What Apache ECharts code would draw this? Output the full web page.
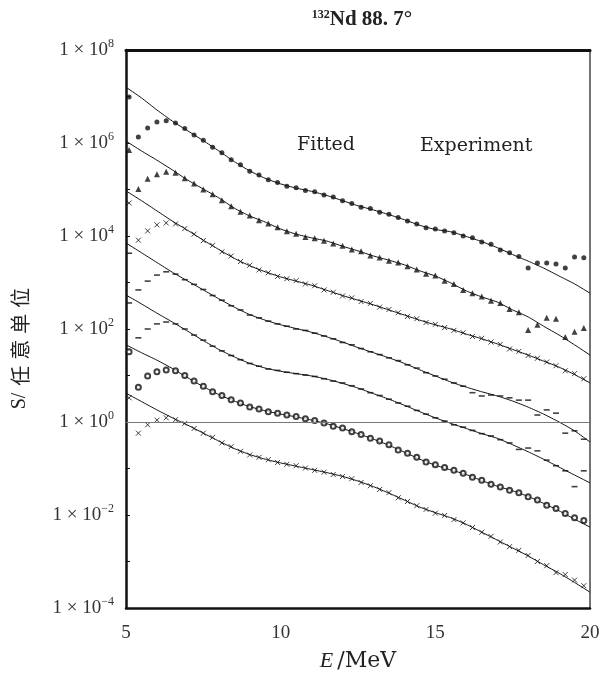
<!DOCTYPE html>
<html>
<head>
<meta charset="utf-8">
<script src="https://cdn.jsdelivr.net/npm/echarts/dist/echarts.min.js"></script>
<style>
  html, body { margin: 0; padding: 0; background: #fff; }
  #main { width: 606px; height: 683px; }
</style>
</head>
<body>
<div id="main"></div>
<script>
// 能量坐标 (MeV)
var fitE = [5, 5.5, 6, 6.5, 7, 7.5, 8, 8.5, 9, 9.5, 10, 10.5, 11, 11.5, 12, 12.5,
  13, 13.5, 14, 14.5, 15, 15.5, 16, 16.5, 17, 17.5, 18, 18.5, 19, 19.5, 20];
var expE = [5.1, 5.4, 5.7, 6.0, 6.3, 6.6, 6.9, 7.2, 7.5, 7.8, 8.1, 8.4, 8.7, 9.0, 9.3,
  9.6, 9.9, 10.2, 10.5, 10.8, 11.1, 11.4, 11.7, 12.0, 12.3, 12.6, 12.9, 13.2, 13.5,
  13.8, 14.1, 14.4, 14.7, 15.0, 15.3, 15.6, 15.9, 16.2, 16.5, 16.8, 17.1, 17.4, 17.7,
  18.0, 18.3, 18.6, 18.9, 19.2, 19.5, 19.8];

// 拟合曲线, lg(S)
var fit1 = [7.20, 6.97, 6.71, 6.47, 6.26, 6.05, 5.83, 5.60, 5.40, 5.24, 5.12, 5.03, 4.96, 4.87, 4.76, 4.65, 4.56, 4.46, 4.35, 4.23, 4.14, 4.09, 3.99, 3.88, 3.75, 3.60, 3.46, 3.31, 3.14, 2.97, 2.77];
var fit2 = [6.04, 5.83, 5.63, 5.42, 5.20, 5.01, 4.82, 4.60, 4.43, 4.30, 4.15, 4.04, 3.96, 3.89, 3.78, 3.68, 3.57, 3.48, 3.38, 3.25, 3.14, 2.99, 2.82, 2.69, 2.58, 2.41, 2.26, 2.06, 1.87, 1.66, 1.44];
var fit3 = [4.97, 4.76, 4.54, 4.32, 4.12, 3.91, 3.71, 3.52, 3.36, 3.23, 3.12, 3.03, 2.94, 2.83, 2.72, 2.62, 2.52, 2.41, 2.30, 2.19, 2.09, 2.00, 1.89, 1.79, 1.68, 1.56, 1.44, 1.31, 1.18, 1.02, 0.84];
var fit4 = [3.85, 3.64, 3.43, 3.22, 3.03, 2.84, 2.65, 2.47, 2.31, 2.19, 2.09, 2.01, 1.93, 1.83, 1.72, 1.60, 1.49, 1.38, 1.26, 1.12, 0.99, 0.86, 0.75, 0.65, 0.56, 0.45, 0.32, 0.17, 0.00, -0.19, -0.43];
var fit5 = [2.73, 2.54, 2.34, 2.15, 1.95, 1.75, 1.56, 1.40, 1.26, 1.16, 1.09, 1.04, 0.99, 0.92, 0.83, 0.73, 0.61, 0.49, 0.36, 0.22, 0.09, -0.03, -0.14, -0.25, -0.35, -0.49, -0.64, -0.80, -0.97, -1.14, -1.31];
var fit6 = [1.66, 1.49, 1.33, 1.15, 0.95, 0.76, 0.59, 0.45, 0.33, 0.24, 0.17, 0.11, 0.04, -0.04, -0.14, -0.25, -0.37, -0.50, -0.65, -0.80, -0.93, -1.03, -1.13, -1.26, -1.38, -1.48, -1.60, -1.75, -1.91, -2.09, -2.26];
var fit7 = [0.62, 0.44, 0.26, 0.09, -0.07, -0.24, -0.41, -0.57, -0.70, -0.80, -0.88, -0.95, -1.02, -1.09, -1.17, -1.27, -1.39, -1.53, -1.68, -1.83, -1.95, -2.06, -2.20, -2.37, -2.54, -2.71, -2.88, -3.07, -3.25, -3.45, -3.66];

// 实验点, lg(S)
var exp1 = [6.99, 6.13, 6.32, 6.45, 6.48, 6.43, 6.31, 6.17, 6.06, 5.91, 5.79, 5.64, 5.53, 5.39, 5.31, 5.21, 5.15, 5.07, 5.04, 4.98, 4.95, 4.88, 4.84, 4.76, 4.70, 4.62, 4.59, 4.51, 4.47, 4.40, 4.32, 4.26, 4.18, 4.15, 4.11, 4.07, 4.00, 3.96, 3.87, 3.82, 3.70, 3.64, 3.56, 3.31, 3.42, 3.42, 3.40, 3.31, 3.55, 3.53];
var exp2 = [5.85, 5.01, 5.23, 5.33, 5.38, 5.36, 5.24, 5.13, 5.00, 4.90, 4.77, 4.64, 4.52, 4.44, 4.34, 4.27, 4.19, 4.10, 4.05, 3.98, 3.95, 3.90, 3.84, 3.79, 3.71, 3.67, 3.58, 3.54, 3.47, 3.43, 3.35, 3.28, 3.19, 3.15, 3.04, 2.97, 2.84, 2.77, 2.70, 2.61, 2.56, 2.43, 2.36, 1.98, 2.09, 2.24, 2.22, 1.83, 1.94, 2.02];
var exp3 = [4.71, 3.91, 4.11, 4.24, 4.28, 4.26, 4.16, 4.04, 3.90, 3.80, 3.66, 3.57, 3.45, 3.37, 3.27, 3.21, 3.13, 3.08, 3.04, 2.97, 2.93, 2.84, 2.79, 2.71, 2.67, 2.59, 2.55, 2.47, 2.42, 2.35, 2.27, 2.22, 2.14, 2.10, 2.03, 1.97, 1.92, 1.84, 1.80, 1.72, 1.67, 1.57, 1.52, 1.43, 1.37, 1.29, 1.21, 1.10, 1.04, 0.93];
var exp4 = [3.63, 2.84, 3.03, 3.16, 3.23, 3.18, 3.06, 2.96, 2.85, 2.72, 2.62, 2.50, 2.41, 2.30, 2.24, 2.17, 2.11, 2.06, 2.00, 1.97, 1.91, 1.85, 1.79, 1.71, 1.66, 1.58, 1.51, 1.45, 1.38, 1.32, 1.23, 1.16, 1.06, 0.99, 0.92, 0.84, 0.77, 0.63, 0.56, 0.58, 0.56, 0.52, 0.47, 0.47, 0.15, 0.26, 0.19, -0.24, -0.19, -0.37];
var exp5 = [2.56, 1.81, 2.00, 2.11, 2.15, 2.11, 2.00, 1.87, 1.76, 1.63, 1.53, 1.43, 1.34, 1.26, 1.20, 1.14, 1.11, 1.07, 1.04, 1.01, 0.98, 0.93, 0.88, 0.84, 0.78, 0.71, 0.63, 0.57, 0.49, 0.41, 0.34, 0.25, 0.17, 0.09, 0.02, -0.06, -0.11, -0.18, -0.25, -0.30, -0.38, -0.45, -0.59, -0.56, -0.62, -0.82, -0.94, -1.05, -1.39, -1.05];
var exp6 = [1.51, 0.75, 0.99, 1.08, 1.12, 1.10, 1.00, 0.88, 0.77, 0.65, 0.57, 0.48, 0.41, 0.32, 0.28, 0.22, 0.19, 0.15, 0.12, 0.07, 0.03, -0.02, -0.09, -0.13, -0.21, -0.27, -0.35, -0.41, -0.49, -0.60, -0.67, -0.76, -0.86, -0.92, -0.98, -1.04, -1.10, -1.19, -1.25, -1.34, -1.40, -1.47, -1.52, -1.61, -1.68, -1.79, -1.86, -1.97, -2.06, -2.12];
var exp7 = [0.52, -0.24, -0.06, 0.04, 0.09, 0.05, -0.03, -0.14, -0.24, -0.33, -0.45, -0.53, -0.63, -0.71, -0.76, -0.81, -0.87, -0.91, -0.94, -0.99, -1.04, -1.08, -1.13, -1.17, -1.22, -1.30, -1.37, -1.45, -1.52, -1.63, -1.71, -1.80, -1.88, -1.96, -2.01, -2.10, -2.17, -2.27, -2.37, -2.46, -2.58, -2.68, -2.76, -2.87, -3.00, -3.09, -3.24, -3.28, -3.40, -3.52];

// 纵轴刻度标签 (指数)
var yLabelExp = [-4, -2, 0, 2, 4, 6, 8];

(function() {
  var chartDom = document.getElementById('main');
  var myChart = echarts.init(chartDom);
  var option;

  var serif = "'Liberation Serif', 'DejaVu Serif', serif";
  var cross = 'path://M0,0L10,10M10,0L0,10';

  var fits = [fit1, fit2, fit3, fit4, fit5, fit6, fit7];
  var exps = [exp1, exp2, exp3, exp4, exp5, exp6, exp7];
  var marks = [
    { symbol: 'circle', size: 5 },
    { symbol: 'triangle', size: 6 },
    { symbol: cross, size: 5 },
    { symbol: 'rect', size: [6, 1.6] },
    { symbol: 'rect', size: [6, 1.6] },
    { symbol: 'emptyCircle', size: 5 },
    { symbol: cross, size: 5 }
  ];

  function pairs(xs, lg) {
    return xs.map(function(x, i) { return [x, Math.pow(10, lg[i])]; });
  }

  var series = [];
  fits.forEach(function(f, k) {
    var s = {
      type: 'line',
      data: pairs(fitE, f),
      showSymbol: false,
      smooth: 0.2,
      silent: true,
      lineStyle: { color: '#111', width: 1 },
      z: 2
    };
    if (k === 0) {
      s.markLine = {
        silent: true,
        symbol: ['none', 'none'],
        label: { show: false },
        lineStyle: { color: '#777', width: 1, type: 'solid' },
        data: [{ yAxis: 1 }]
      };
    }
    series.push(s);
  });
  exps.forEach(function(e, k) {
    series.push({
      type: 'scatter',
      data: pairs(expE, e),
      symbol: marks[k].symbol,
      symbolSize: marks[k].size,
      silent: true,
      itemStyle: {
        color: '#111',
        borderColor: '#111',
        borderWidth: (k === 2 || k === 5 || k === 6) ? 1 : 0
      },
      z: 3
    });
  });

  option = {
    animation: false,
    backgroundColor: '#fff',
    grid: { left: 126, right: 16, top: 50, bottom: 75 },
    title: {
      left: 357,
      top: 4,
      textAlign: 'center',
      text: '{s|132}{b|Nd 88. 7°}',
      textStyle: {
        rich: {
          s: { fontSize: 12, fontFamily: serif, fontWeight: 'bold', color: '#222', padding: [0, 0, 9, 0] },
          b: { fontSize: 21, fontFamily: serif, fontWeight: 'bold', color: '#222' }
        }
      }
    },
    graphic: [
      { type: 'text', left: 297, top: 136, style: { text: 'Fitted', font: "19px 'DejaVu Serif'", fill: '#222' } },
      { type: 'text', left: 420, top: 137, style: { text: 'Experiment', font: "19px 'DejaVu Serif'", fill: '#222' } },
      {
        type: 'text',
        x: 20,
        y: 347,
        rotation: Math.PI / 2,
        style: {
          text: '{a|S/}{c|任}{c|意}{c|单}{c|位}',
          align: 'center',
          verticalAlign: 'middle',
          rich: {
            a: { fontSize: 20, fontFamily: serif, fill: '#222', padding: [0, 4, 0, 0] },
            c: { fontSize: 20, fontFamily: "'Noto Sans CJK SC'", fill: '#222', padding: [0, 3, 0, 3] }
          }
        }
      }
    ],
    xAxis: [
      {
        type: 'value',
        min: 5,
        max: 20,
        interval: 5,
        name: '{i|E}{n|/MeV}',
        nameLocation: 'middle',
        nameGap: 42,
        nameTextStyle: {
          rich: {
            i: { fontSize: 22, fontFamily: serif, fontStyle: 'italic', color: '#222', padding: [0, 4, 0, 0] },
            n: { fontSize: 22, fontFamily: "'DejaVu Serif'", color: '#222' }
          }
        },
        axisLine: { lineStyle: { color: '#111', width: 2.5 } },
        axisTick: { show: false },
        splitLine: { show: false },
        axisLabel: { color: '#333', fontSize: 19, fontFamily: serif, margin: 16 }
      },
      {
        type: 'value',
        position: 'top',
        min: 5,
        max: 20,
        axisLine: { lineStyle: { color: '#111', width: 3 } },
        axisTick: { show: false },
        axisLabel: { show: false },
        splitLine: { show: false }
      }
    ],
    yAxis: [
      {
        type: 'log',
        logBase: 10,
        min: 1e-4,
        max: 1e8,
        interval: 1,
        axisLine: { lineStyle: { color: '#111', width: 2.5 } },
        axisTick: { inside: true, length: 4, lineStyle: { color: '#111' } },
        splitLine: { show: false },
        axisLabel: {
          margin: 12,
          formatter: function(v) {
            var p = Math.round(Math.log(v) / Math.LN10);
            if (yLabelExp.indexOf(p) < 0) return '';
            return '{n|1 × 10}{s|' + String(p).replace('-', '−') + '}';
          },
          rich: {
            n: { fontSize: 19, fontFamily: serif, color: '#333' },
            s: { fontSize: 12, fontFamily: serif, color: '#333', padding: [0, 0, 12, 0] }
          }
        }
      },
      {
        type: 'log',
        logBase: 10,
        position: 'right',
        min: 1e-4,
        max: 1e8,
        axisLine: { lineStyle: { color: '#444', width: 1.5 } },
        axisTick: { show: false },
        axisLabel: { show: false },
        splitLine: { show: false }
      }
    ],
    series: series
  };

  option && myChart.setOption(option);
  window.addEventListener('resize', function() {
    myChart.resize();
  });
})();
</script>
</body>
</html>
